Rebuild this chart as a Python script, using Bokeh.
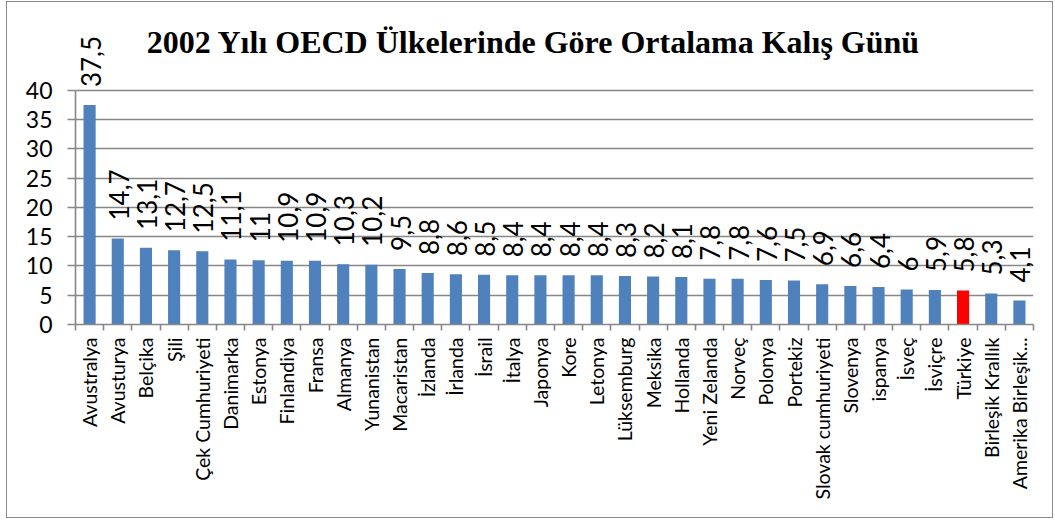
import math
from bokeh.plotting import figure
from bokeh.models import (Range1d, FixedTicker, ColumnDataSource, LabelSet, Label)
from bokeh.core.properties import value
from bokeh.embed import file_html
from bokeh.resources import INLINE

TITLE = "2002 Yılı OECD Ülkelerinde Göre Ortalama Kalış Günü"

countries = ["Avustralya", "Avusturya", "Belçika", "Şili", "Çek Cumhuriyeti",
             "Danimarka", "Estonya", "Finlandiya", "Fransa", "Almanya",
             "Yunanistan", "Macaristan", "İzlanda", "İrlanda", "İsrail",
             "İtalya", "Japonya", "Kore", "Letonya", "Lüksemburg", "Meksika",
             "Hollanda", "Yeni Zelanda", "Norveç", "Polonya", "Portekiz",
             "Slovak cumhuriyeti", "Slovenya", "ispanya", "İsveç", "İsviçre",
             "Türkiye", "Birleşik Krallık", "Amerika Birleşik..."]

days = [37.5, 14.7, 13.1, 12.7, 12.5, 11.1, 11, 10.9, 10.9, 10.3, 10.2, 9.5,
        8.8, 8.6, 8.5, 8.4, 8.4, 8.4, 8.4, 8.3, 8.2, 8.1, 7.8, 7.8, 7.6, 7.5,
        6.9, 6.6, 6.4, 6, 5.9, 5.8, 5.3, 4.1]

y_ticks = [0, 5, 10, 15, 20, 25, 30, 35, 40]

HIGHLIGHT = "Türkiye"
BLUE = "#4F81BD"
RED = "#FF0000"
GRAY = "#878787"

n = len(countries)
idx = list(range(n))


def fmt(v):
    return ("%g" % v).replace(".", ",")


src = ColumnDataSource(dict(
    x=idx,
    top=days,
    label=[fmt(v) for v in days],
    color=[RED if c == HIGHLIGHT else BLUE for c in countries],
))

p = figure(width=1047, height=517,
           x_range=Range1d(-0.5, n - 0.5), y_range=Range1d(0, 52.3),
           output_backend="svg", toolbar_location=None,
           min_border_left=68, min_border_right=21,
           min_border_top=16, min_border_bottom=195)
p.styles = {"border": "1px solid #8a8a8a", "margin-left": "6px", "margin-top": "1px"}

p.vbar(x="x", top="top", width=0.43, bottom=0, source=src,
       fill_color="color", line_color=None)

labels = LabelSet(x="x", y="top", text="label", source=src,
                  angle=math.pi / 2, text_align="left", text_baseline="middle",
                  y_offset=18, x_offset=1,
                  text_font=value("Lato"), text_font_size="26px",
                  text_color="black")
p.add_layout(labels)

title = Label(x=458, y=283, x_units="screen", y_units="screen", text=TITLE,
              text_align="center", text_baseline="middle",
              text_font="Liberation Serif", text_font_style="bold",
              text_font_size="32px", text_color="black")
p.add_layout(title)

p.outline_line_color = None
p.background_fill_color = "white"
p.border_fill_color = "white"

# grid
p.xgrid.grid_line_color = None
p.ygrid.ticker = FixedTicker(ticks=y_ticks)
p.ygrid.bounds = (0, 40)
p.ygrid.grid_line_color = GRAY
p.ygrid.grid_line_width = 1.6

# y axis
yax = p.yaxis[0]
yax.ticker = FixedTicker(ticks=y_ticks)
yax.bounds = (0, 40)
yax.axis_line_color = GRAY
yax.axis_line_width = 1.6
yax.major_tick_line_color = GRAY
yax.major_tick_line_width = 1.6
yax.major_tick_out = 8
yax.major_tick_in = 0
yax.minor_tick_line_color = None
yax.major_label_standoff = 15
yax.major_label_text_font = "Lato"
yax.major_label_text_font_size = "23px"
yax.major_label_text_color = "black"

# x axis
xax = p.xaxis[0]
xax.ticker = FixedTicker(ticks=idx, minor_ticks=[i - 0.5 for i in range(n + 1)])
xax.major_label_overrides = {i: c for i, c in zip(idx, countries)}
xax.major_label_orientation = math.pi / 2
xax.axis_line_color = GRAY
xax.axis_line_width = 1.6
xax.major_tick_line_color = None
xax.major_tick_out = 0
xax.major_tick_in = 0
xax.minor_tick_line_color = GRAY
xax.minor_tick_line_width = 1.6
xax.minor_tick_out = 6
xax.minor_tick_in = 0
xax.major_label_standoff = 7
xax.major_label_text_font = "Lato"
xax.major_label_text_font_size = "19.5px"
xax.major_label_text_color = "black"

open("out.html", "w").write(file_html(p, INLINE))
